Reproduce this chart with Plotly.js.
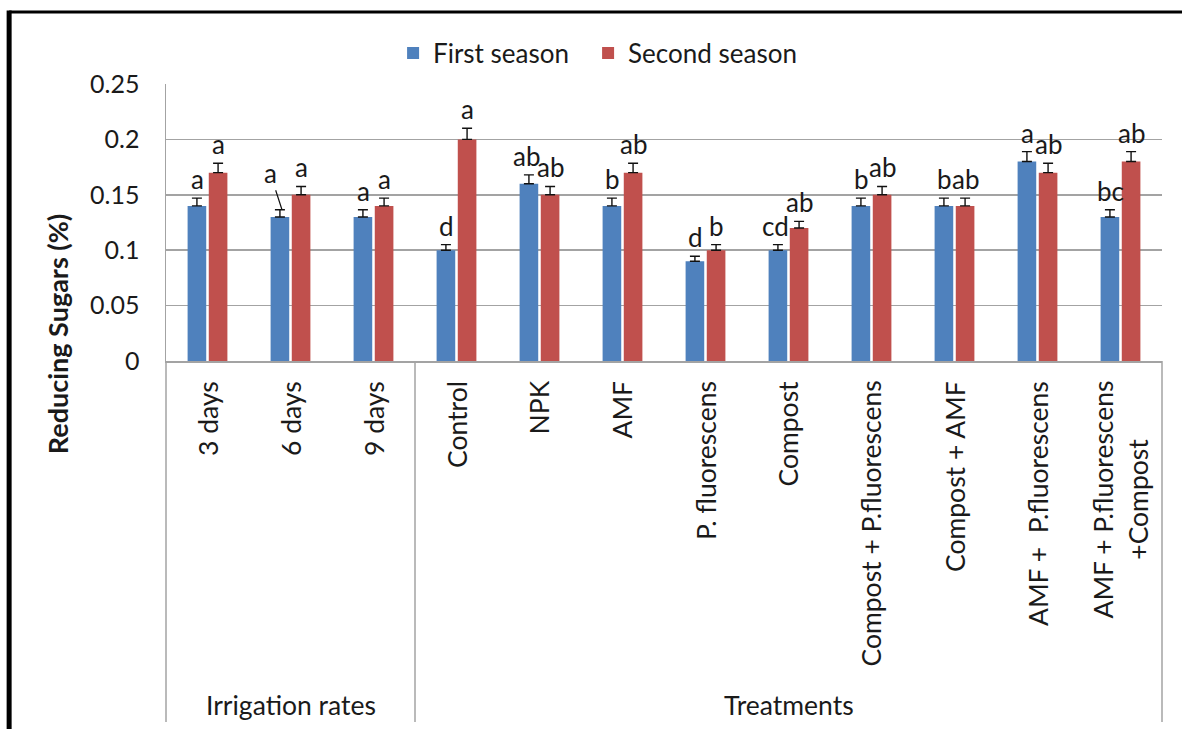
<!DOCTYPE html>
<html>
<head>
<meta charset="utf-8">
<script src="https://cdn.plot.ly/plotly-3.0.1.min.js"></script>
<style>
  html, body { margin: 0; padding: 0; background: #ffffff; }
  #chart { width: 1182px; height: 729px; }
</style>
</head>
<body>
<div id="chart"></div>
<script>
// Reducing sugars (%) by irrigation rate and soil treatment, two seasons
const categories = [
  "3 days", "6 days", "9 days",
  "Control", "NPK", "AMF", "P. fluorescens", "Compost",
  "Compost + P.fluorescens", "Compost + AMF", "AMF +  P.fluorescens",
  "AMF + P.fluorescens<br>+Compost"
];
const groupNames = ["Irrigation rates", "Treatments"];
const groupSizes = [3, 9];

const firstSeason  = [0.14, 0.13, 0.13, 0.10, 0.16, 0.14, 0.09, 0.10, 0.14, 0.14, 0.18, 0.13];
const secondSeason = [0.17, 0.15, 0.14, 0.20, 0.15, 0.17, 0.10, 0.12, 0.15, 0.14, 0.17, 0.18];

const firstErr  = [0.007, 0.0065, 0.0065, 0.005, 0.008, 0.007, 0.0045, 0.005, 0.007, 0.007, 0.009, 0.0065];
const secondErr = [0.0085, 0.0075, 0.007, 0.01, 0.0075, 0.0085, 0.005, 0.006, 0.0075, 0.007, 0.0085, 0.009];

const firstLetters  = ["a", "a", "a", "d", "ab", "b", "d", "cd", "b", "b", "a", "bc"];
const secondLetters = ["a", "a", "a", "a", "ab", "ab", "b", "ab", "ab", "ab", "ab", "ab"];

const FONT = "Lato, 'Open Sans', sans-serif";
const TEXT = "#1a1a1a";
const GRID = "#a3a3a3";
const BLUE = "#4f81bd";
const RED  = "#c0504d";

const zeros = categories.map(() => 0);

const traces = [
  {
    type: "bar", name: "First season", x: categories, y: firstSeason,
    marker: { color: BLUE }, legendwidth: 150,
    error_y: { type: "data", array: firstErr, arrayminus: zeros, symmetric: false,
               color: "#111", thickness: 1.4, width: 5 },
    hoverinfo: "skip"
  },
  {
    type: "bar", name: "Second season", x: categories, y: secondSeason,
    marker: { color: RED },
    error_y: { type: "data", array: secondErr, arrayminus: zeros, symmetric: false,
               color: "#111", thickness: 1.4, width: 5 },
    hoverinfo: "skip"
  }
];

// pixel offset of each bar from its category centre
const BAR_SHIFT = 10.5;
const LETTER_FONT = { family: FONT, size: 26, color: TEXT };
const annotations = [];
const shapes = [];

categories.forEach((c, i) => {
  // significance letter above the first-season bar; the "6 days" one sits
  // to the left with a leader line down to its error cap
  if (i === 1) {
    annotations.push({
      x: c, y: firstSeason[i] + firstErr[i], xref: "x", yref: "y",
      xshift: -BAR_SHIFT + 2, text: firstLetters[i], showarrow: true,
      arrowhead: 0, arrowwidth: 1.2, arrowcolor: "#111", ax: -12, ay: -37,
      standoff: 0, startstandoff: 0, font: LETTER_FONT
    });
  } else {
    // two-letter label next to a neighbour is nudged left a little
    const nudge = (firstLetters[i].length > 1 && secondLetters[i].length > 1 &&
                   Math.abs(firstSeason[i] - secondSeason[i]) < 0.02) ? -3 : 0;
    annotations.push({
      x: c, y: firstSeason[i] + firstErr[i], xref: "x", yref: "y",
      xshift: -BAR_SHIFT + nudge, yshift: 1, yanchor: "bottom", showarrow: false,
      text: firstLetters[i], font: LETTER_FONT
    });
  }
  annotations.push({
    x: c, y: secondSeason[i] + secondErr[i], xref: "x", yref: "y",
    xshift: BAR_SHIFT, yshift: 1, yanchor: "bottom", showarrow: false,
    text: secondLetters[i], font: LETTER_FONT
  });

  // rotated category label under the axis, lines centred on each other
  annotations.push({
    x: c, y: -0.065, xref: "x", yref: "paper", showarrow: false,
    textangle: -90, xanchor: "center", yanchor: "top", align: "center",
    text: c, font: { family: FONT, size: 26.5, color: TEXT }
  });
});

// group captions under the category labels, with separators between groups
let start = 0;
groupNames.forEach((g, k) => {
  const mid = start + (groupSizes[k] - 1) / 2;
  annotations.push({
    x: mid, y: -1.242, xref: "x", yref: "paper", showarrow: false,
    yanchor: "middle", text: g, font: { family: FONT, size: 26.5, color: TEXT }
  });
  start += groupSizes[k];
  if (k < groupNames.length - 1) {
    shapes.push({
      type: "line", xref: "x", yref: "paper",
      x0: start - 0.5, x1: start - 0.5, y0: 0, y1: -1.303,
      line: { color: GRID, width: 1.5 }
    });
  }
});

// outer edges of the category band
[0, 1].forEach(px => shapes.push({
  type: "line", xref: "paper", yref: "paper",
  x0: px, x1: px, y0: 0, y1: -1.303, line: { color: GRID, width: 1.5 }
}));

// black frame around the figure (top and left edges)
shapes.push({
  type: "line", xref: "paper", yref: "paper",
  x0: -0.1575, x1: 1.05, y0: 1.26, y1: 1.26, line: { color: "#000", width: 3 }
});
shapes.push({
  type: "line", xref: "paper", yref: "paper",
  x0: -0.1575, x1: -0.1575, y0: 1.265, y1: -1.5, line: { color: "#000", width: 5 }
});

// vertical axis title
annotations.push({
  x: -0.1095, y: 0.1, xref: "paper", yref: "paper", showarrow: false,
  textangle: -90, xanchor: "center", yanchor: "middle",
  text: "<b>Reducing Sugars (%)</b>", font: { family: FONT, size: 27, color: TEXT }
});

const layout = {
  width: 1182, height: 729,
  margin: { l: 166, r: 20, t: 84, b: 368 },
  paper_bgcolor: "#ffffff", plot_bgcolor: "#ffffff",
  font: { family: FONT, color: TEXT },
  barmode: "group", bargap: 0.49, bargroupgap: 0.12,
  showlegend: true,
  legend: {
    orientation: "h", x: 0.228, xanchor: "left", y: 1.112, yanchor: "middle",
    font: { family: FONT, size: 26, color: TEXT }, itemwidth: 30,
    bgcolor: "rgba(0,0,0,0)"
  },
  xaxis: {
    type: "category", showgrid: false, showticklabels: false,
    showline: true, linecolor: GRID, linewidth: 1.5, ticks: "",
    range: [-0.5, categories.length - 0.5]
  },
  yaxis: {
    range: [0, 0.25], dtick: 0.05, tick0: 0,
    showgrid: true, gridcolor: GRID, gridwidth: 1.5,
    zeroline: false, showline: true, linecolor: GRID, linewidth: 1.5,
    ticks: "", ticklabelstandoff: 20,
    tickfont: { family: FONT, size: 25, color: TEXT }
  },
  annotations: annotations,
  shapes: shapes
};

Plotly.newPlot("chart", traces, layout, { displayModeBar: false, staticPlot: true });
</script>
</body>
</html>
